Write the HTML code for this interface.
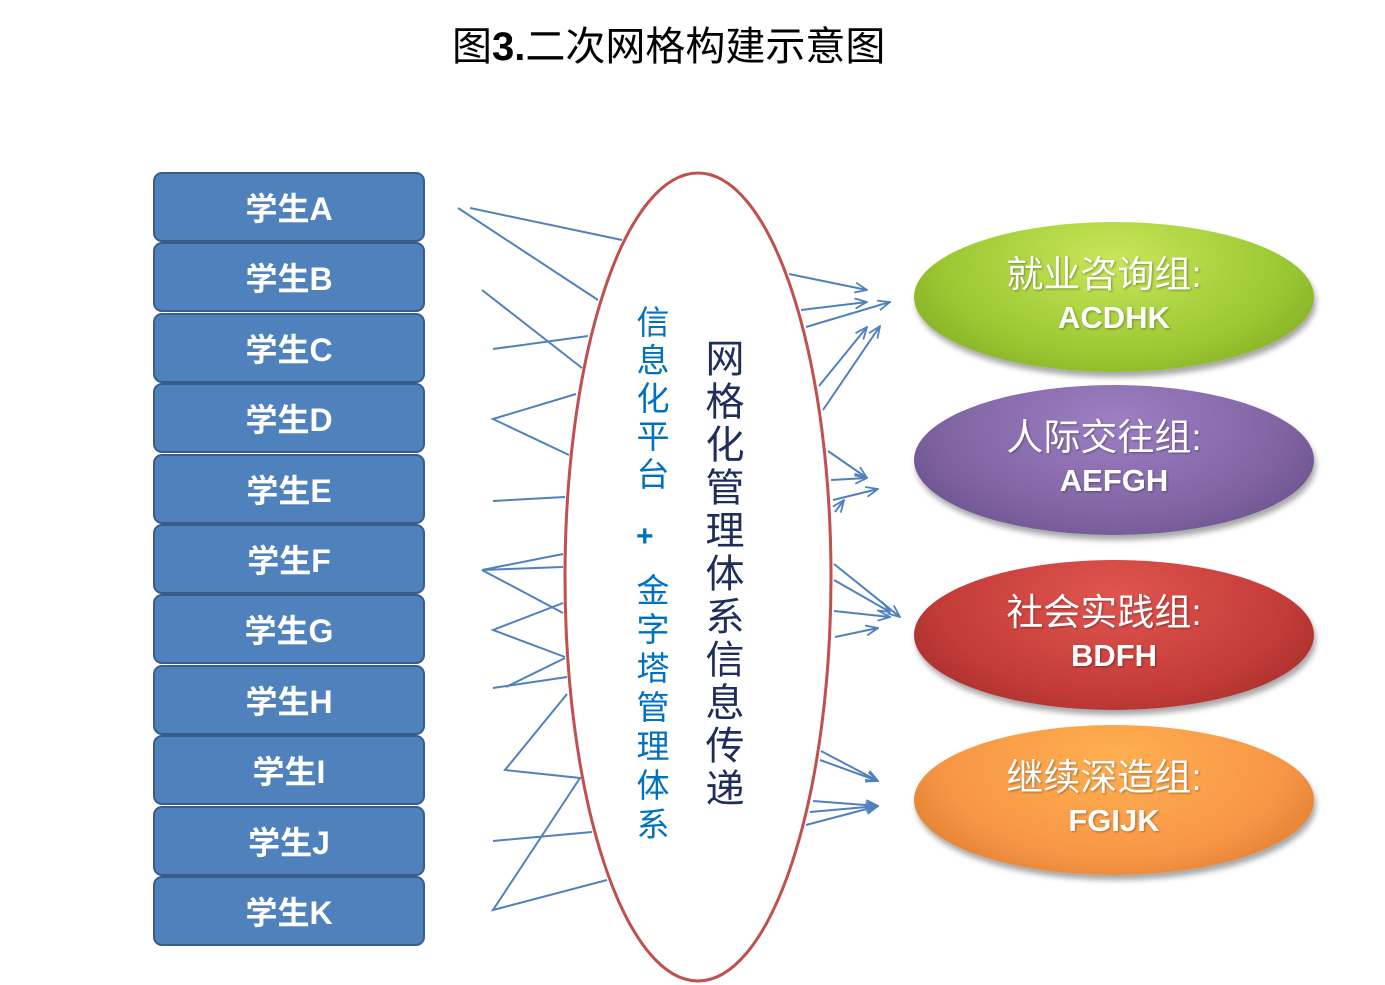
<!DOCTYPE html>
<html><head><meta charset="utf-8"><style>
body{margin:0;width:1385px;height:985px;background:#fff;overflow:hidden;position:relative;font-family:"Liberation Sans","Noto Sans CJK SC",sans-serif}
.t{position:absolute;left:452px;top:14px;font-size:40px;color:#000;white-space:nowrap}
.s{position:absolute;left:153px;width:268px;height:66px;background:#4f81bd;border:2.5px solid #385d8a;border-radius:9px;color:#fff;font-weight:bold;font-size:32px;text-align:center;line-height:70px}
.o{position:absolute;left:914px;width:400px;height:150px;border-radius:50%;color:#fff;text-align:center;box-shadow:2px 5px 6px rgba(0,0,0,.35);text-shadow:1px 1px 2px rgba(0,0,0,.35)}
.o .a{margin-top:30px;font-size:37px;line-height:46px;padding-right:20px}
.o .b{font-size:31px;font-weight:bold;line-height:40px}
.v{position:absolute;writing-mode:vertical-rl;text-orientation:upright}
</style></head><body>
<div class="t">图<b>3.</b>二次网格构建示意图</div>
<div class="s" style="top:172px">学生A</div>
<div class="s" style="top:242px">学生B</div>
<div class="s" style="top:313px">学生C</div>
<div class="s" style="top:383px">学生D</div>
<div class="s" style="top:454px">学生E</div>
<div class="s" style="top:524px">学生F</div>
<div class="s" style="top:594px">学生G</div>
<div class="s" style="top:665px">学生H</div>
<div class="s" style="top:735px">学生I</div>
<div class="s" style="top:806px">学生J</div>
<div class="s" style="top:876px">学生K</div>
<svg width="1385" height="985" style="position:absolute;left:0;top:0">
<defs><marker id="a" markerWidth="14" markerHeight="12" refX="13" refY="6" orient="auto" markerUnits="userSpaceOnUse"><path d="M1,1 L13,6 L1,11" fill="none" stroke="#4f81bd" stroke-width="1.8"/></marker></defs>
<ellipse cx="698" cy="577" rx="133" ry="404" fill="none" stroke="#c0504d" stroke-width="3"/>
<g stroke="#4f81bd" stroke-width="2" fill="none">
<path d="M458,208L598,300M470,208L622,240M482,290L582,368M493,349L588,336M576,394L493,419L569,455M493,501L565,497M563,554L482,570L563,567M482,570L563,613M563,603L493,630L565,657M493,688L567,677M506,687L565,658M567,694L505,770L580,778L493,910L607,880M493,841L592,832"/>
</g>
<g stroke="#4f81bd" stroke-width="2" fill="none" marker-end="url(#a)">
<line x1="789" y1="274" x2="867" y2="290"/><line x1="801" y1="310" x2="867" y2="302"/><line x1="806" y1="327" x2="890" y2="302"/><line x1="819" y1="386" x2="867" y2="327"/><line x1="823" y1="410" x2="880" y2="326"/>
<line x1="828" y1="451" x2="867" y2="478"/><line x1="831" y1="480" x2="867" y2="478"/><line x1="833" y1="500" x2="878" y2="489"/><line x1="835" y1="512" x2="844" y2="500"/>
<line x1="834" y1="564" x2="900" y2="617"/><line x1="834" y1="580" x2="890" y2="612"/><line x1="834" y1="611" x2="890" y2="617"/><line x1="835" y1="637" x2="878" y2="628"/>
<line x1="821" y1="751" x2="878" y2="781"/><line x1="820" y1="760" x2="878" y2="781"/><line x1="813" y1="801" x2="878" y2="806"/><line x1="810" y1="812" x2="878" y2="806"/><line x1="806" y1="825" x2="878" y2="806"/>
</g></svg>
<div class="v" style="left:632px;top:305px;color:#0070c0;font-size:33px;line-height:36px;letter-spacing:5px">信息化平台</div>
<div style="position:absolute;left:636px;top:520px;color:#0070c0;font-size:30px;font-weight:bold">+</div>
<div class="v" style="left:632px;top:573px;color:#0070c0;font-size:33px;line-height:36px;letter-spacing:6px">金字塔管理体系</div>
<div class="v" style="left:700px;top:338px;color:#1f2d5a;font-size:39px;line-height:42px;letter-spacing:4px">网格化管理体系信息传递</div>
<div class="o" style="top:222px;background:radial-gradient(ellipse at 50% 25%,#c8e65a,#9bc832 60%,#76a01e)"><div class="a">就业咨询组:</div><div class="b">ACDHK</div></div>
<div class="o" style="top:385px;background:radial-gradient(ellipse at 50% 25%,#9d7fc4,#8064a2 60%,#5f4880)"><div class="a">人际交往组:</div><div class="b">AEFGH</div></div>
<div class="o" style="top:560px;background:radial-gradient(ellipse at 50% 25%,#e05550,#c43c38 60%,#962826)"><div class="a">社会实践组:</div><div class="b">BDFH</div></div>
<div class="o" style="top:725px;background:radial-gradient(ellipse at 50% 25%,#ffb050,#f79646 60%,#d07020)"><div class="a">继续深造组:</div><div class="b">FGIJK</div></div>
</body></html>
